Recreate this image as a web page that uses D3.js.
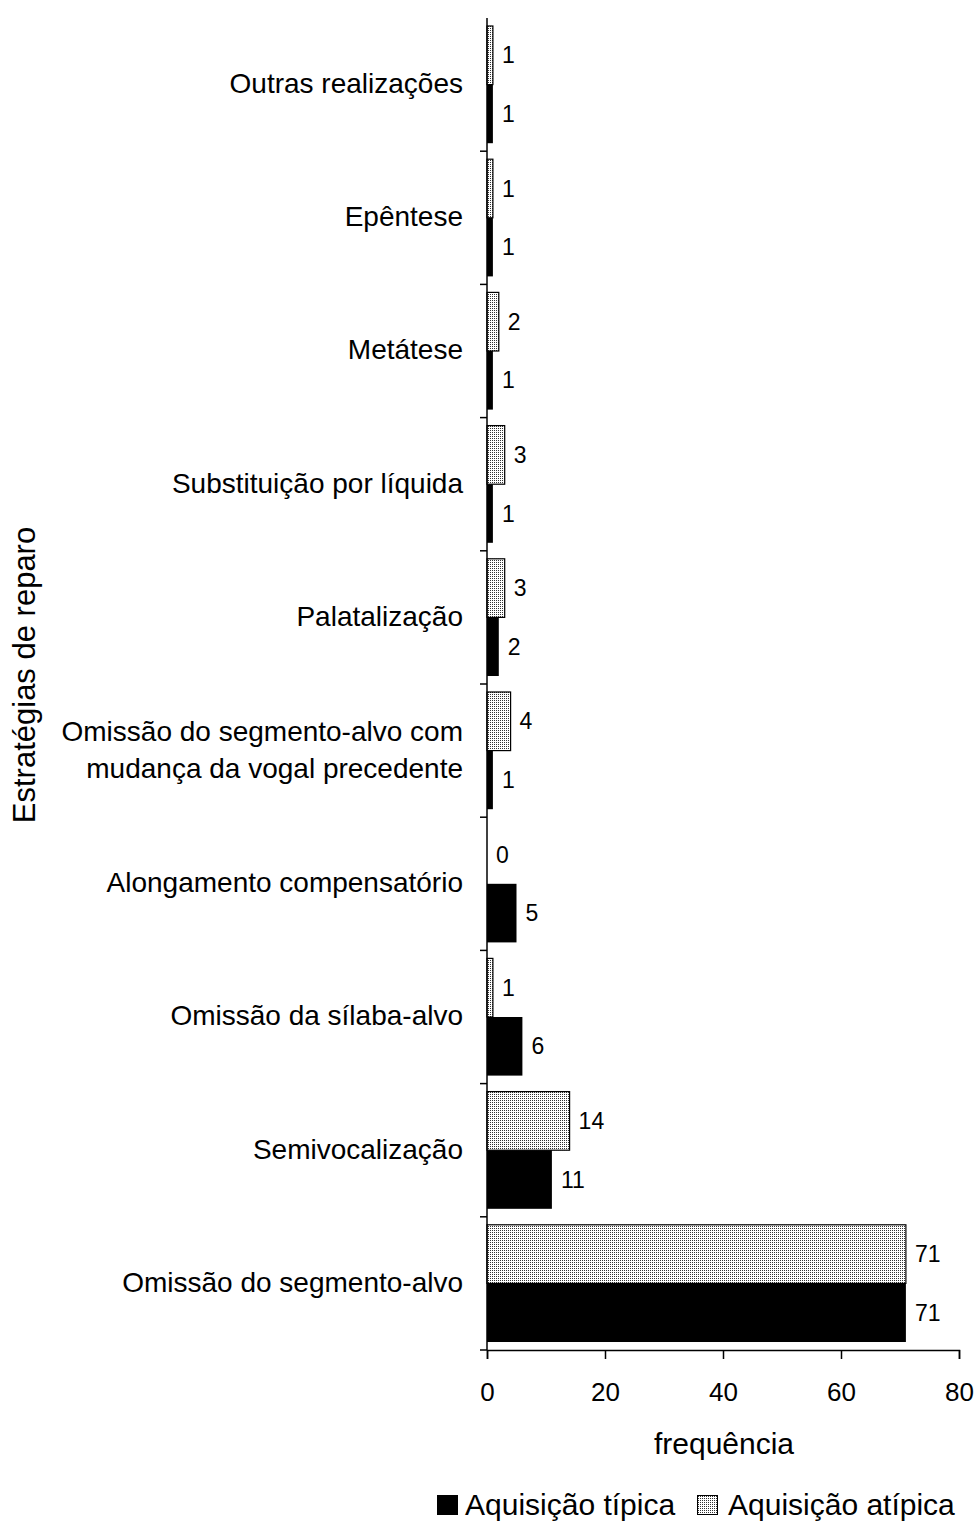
<!DOCTYPE html>
<html><head><meta charset="utf-8">
<script src="https://cdn.jsdelivr.net/npm/d3@7"></script>
<style>body{margin:0;background:#fff}svg{display:block;font-family:"Liberation Sans",Arial,sans-serif}</style>
</head><body><svg id="c" width="980" height="1521"></svg>
<script>
const categories = [
  ["Outras realizações"],
  ["Epêntese"],
  ["Metátese"],
  ["Substituição por líquida"],
  ["Palatalização"],
  ["Omissão do segmento-alvo com","mudança da vogal precedente"],
  ["Alongamento compensatório"],
  ["Omissão da sílaba-alvo"],
  ["Semivocalização"],
  ["Omissão do segmento-alvo"]
];
const tipica = [1,1,1,1,2,1,5,6,11,71];
const atipica = [1,1,2,3,3,4,0,1,14,71];
const xTicks = [0,20,40,60,80];
const seriesNames = ["Aquisição típica","Aquisição atípica"];

(function(){
const svg = d3.select("#c");
const defs = svg.append("defs");
const pat = defs.append("pattern").attr("id","dots").attr("patternUnits","userSpaceOnUse").attr("width",2).attr("height",2);
pat.append("rect").attr("width",2).attr("height",2).attr("fill","#fff");
pat.append("rect").attr("width",1).attr("height",1).attr("fill","#333");

const pL = 487, pR = 959, pT = 18, pB = 1350;
const x = d3.scaleLinear().domain([0,80]).range([pL,pR]);
const y = d3.scaleBand().domain(d3.range(categories.length)).range([pT,pB]).paddingInner(0.12).paddingOuter(0.06);
const ySub = d3.scaleBand().domain(["a","t"]).range([0,y.bandwidth()]);
const step = (pB-pT)/categories.length;

const g = svg.append("g");
categories.forEach((c,i)=>{
  const y0 = y(i);
  g.append("rect").attr("x",x(0)).attr("y",y0+ySub("a")).attr("width",x(atipica[i])-x(0)).attr("height",ySub.bandwidth())
    .attr("fill","url(#dots)").attr("stroke","#000").attr("stroke-width",atipica[i]>0?1.2:0);
  g.append("rect").attr("x",x(0)).attr("y",y0+ySub("t")).attr("width",x(tipica[i])-x(0)).attr("height",ySub.bandwidth())
    .attr("fill","#000");
  g.append("text").attr("x",x(atipica[i])+9).attr("y",y0+ySub("a")+ySub.bandwidth()/2).attr("dy","0.35em")
    .attr("font-size",23).text(atipica[i]);
  g.append("text").attr("x",x(tipica[i])+9).attr("y",y0+ySub("t")+ySub.bandwidth()/2).attr("dy","0.35em")
    .attr("font-size",23).text(tipica[i]);
  const cy = pT + step*(i+0.5);
  const t = svg.append("text").attr("text-anchor","end").attr("font-size",28);
  c.forEach((l,k)=>{
    t.append("tspan").attr("x",463).attr("y",cy + (k-(c.length-1)/2)*37).attr("dy","0.3em").text(l);
  });
});

svg.append("line").attr("x1",pL).attr("x2",pL).attr("y1",pT).attr("y2",pB).attr("stroke","#000").attr("stroke-width",1.5);
for(let k=1;k<=categories.length;k++){
  const yy = pT + step*k;
  svg.append("line").attr("x1",pL-7).attr("x2",pL).attr("y1",yy).attr("y2",yy).attr("stroke","#000").attr("stroke-width",1.5);
}
const xa = svg.append("g").attr("transform",`translate(0,${pB})`)
  .call(d3.axisBottom(x).tickValues(xTicks).tickSize(9).tickPadding(24));
xa.select(".domain").attr("stroke-width",1.5);
xa.selectAll(".tick line").attr("stroke-width",1.5);
xa.selectAll("text").attr("font-size",26).attr("font-family","Liberation Sans, Arial, sans-serif").attr("fill","#000");

svg.append("text").attr("x",724).attr("y",1454).attr("text-anchor","middle").attr("font-size",30).text("frequência");
svg.append("text").attr("transform","translate(35,675) rotate(-90)").attr("text-anchor","middle").attr("font-size",31).text("Estratégias de reparo");

const lg = svg.append("g");
lg.append("rect").attr("x",437).attr("y",1495).attr("width",21).attr("height",20).attr("fill","#000");
lg.append("text").attr("x",465).attr("y",1515).attr("font-size",30).text(seriesNames[0]);
lg.append("rect").attr("x",697.5).attr("y",1495.5).attr("width",20).attr("height",19).attr("fill","url(#dots)").attr("stroke","#000");
lg.append("text").attr("x",728).attr("y",1515).attr("font-size",30).text(seriesNames[1]);
})();
</script></body></html>
